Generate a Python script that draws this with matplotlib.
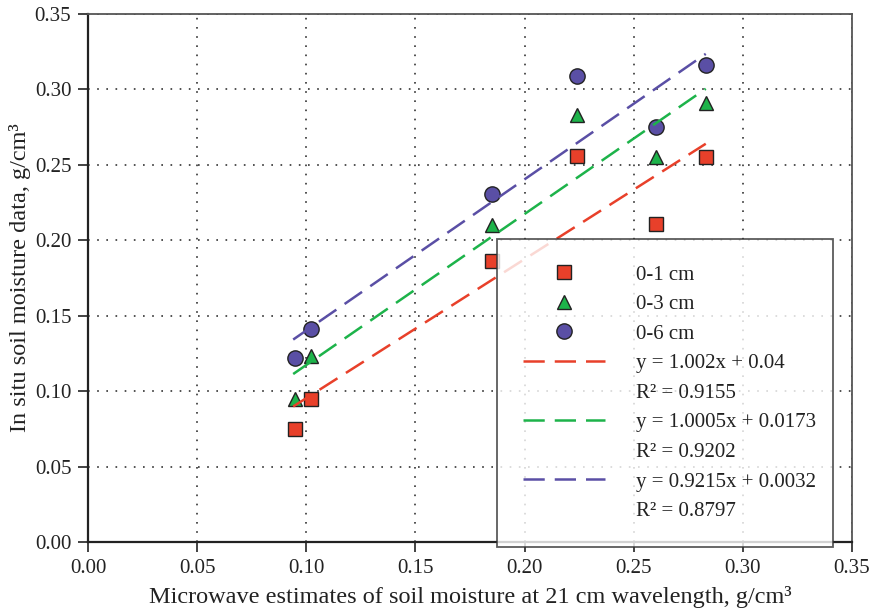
import matplotlib.pyplot as plt
from matplotlib.lines import Line2D

# microwave estimates (x) and in situ soil moisture (y) for three depths
x_est = [0.095, 0.102, 0.185, 0.224, 0.260, 0.283]
y_01cm = [0.075, 0.095, 0.186, 0.256, 0.211, 0.255]
y_03cm = [0.095, 0.123, 0.210, 0.283, 0.255, 0.291]
y_06cm = [0.122, 0.141, 0.231, 0.309, 0.275, 0.316]

# linear fits (slope, intercept) drawn for each depth
fit_01cm = (0.9215, 0.0032)
fit_03cm = (1.0005, 0.0173)
fit_06cm = (1.002, 0.04)
fit_x = [0.094, 0.283]

legend_labels = [
    "0-1 cm", "0-3 cm", "0-6 cm",
    "y = 1.002x + 0.04", "R² = 0.9155",
    "y = 1.0005x + 0.0173", "R² = 0.9202",
    "y = 0.9215x + 0.0032", "R² = 0.8797",
]

xticks = [0.0, 0.05, 0.10, 0.15, 0.20, 0.25, 0.30, 0.35]
yticks = [0.0, 0.05, 0.10, 0.15, 0.20, 0.25, 0.30, 0.35]

red = "#E8402A"
green = "#1DB34A"
blue = "#5A4FA5"

plt.rcParams["font.family"] = ["Liberation Serif", "DejaVu Serif"]

fig = plt.figure(figsize=(8.73, 6.14), dpi=100)
ax = fig.add_axes([88 / 873, 72 / 614, 764 / 873, 528 / 614])

ax.plot(x_est, y_01cm, "s", ms=9.5, mfc=red, mec="#222222", mew=1.0, ls="none", zorder=3)
ax.plot(x_est, y_03cm, "^", ms=10.5, mfc=green, mec="#222222", mew=1.0, ls="none", zorder=3)
ax.plot(x_est, y_06cm, "o", ms=11, mfc=blue, mec="#222222", mew=1.0, ls="none", zorder=3)

for (a, b), c in [(fit_01cm, red), (fit_03cm, green), (fit_06cm, blue)]:
    ax.plot(fit_x, [a * v + b for v in fit_x], color=c, lw=1.8,
            dashes=(8.5, 4), solid_capstyle="butt", zorder=4)

ax.set_xlim(0, 0.35)
ax.set_ylim(0, 0.35)
ax.set_xticks(xticks)
ax.set_yticks(yticks)
ax.set_xticklabels([f"{t:.2f}" for t in xticks])
ax.set_yticklabels([f"{t:.2f}" for t in yticks])
ax.tick_params(direction="out", length=7, width=1.2, labelsize=15, colors="#222222", pad=5)
ax.grid(True, color="#333333", linestyle=(0, (1, 4.5)), linewidth=1.2)
ax.set_axisbelow(True)
for side in ["left", "bottom"]:
    ax.spines[side].set_linewidth(1.6)
    ax.spines[side].set_color("#222222")
for side in ["top", "right"]:
    ax.spines[side].set_linewidth(1.3)
    ax.spines[side].set_color("#555555")

ax.set_xlabel("Microwave estimates of soil moisture at 21 cm wavelength, g/cm³",
              fontsize=17.5, color="#222222", labelpad=6)
ax.set_ylabel("In situ soil moisture data, g/cm³", fontsize=17.5, color="#222222", labelpad=3)

mk = dict(ls="none", mec="#222222", mew=1.0)
dash = dict(lw=1.8, dashes=(8.5, 4))
blank = Line2D([], [], ls="none")
handles = [
    Line2D([], [], marker="s", ms=9.5, mfc=red, **mk),
    Line2D([], [], marker="^", ms=10.5, mfc=green, **mk),
    Line2D([], [], marker="o", ms=11, mfc=blue, **mk),
    Line2D([], [], color=red, **dash), blank,
    Line2D([], [], color=green, **dash), blank,
    Line2D([], [], color=blue, **dash), blank,
]
leg = ax.legend(
    handles, legend_labels,
    loc="upper left", bbox_to_anchor=(0.535, 0.574, 0.44, 0.0), mode="expand",
    borderaxespad=0, fontsize=15, frameon=True, fancybox=False,
    handlelength=3.95, handletextpad=1.5, borderpad=1.25, labelspacing=0.48,
)
leg.get_frame().set_edgecolor("#333333")
leg.get_frame().set_linewidth(1.3)
leg.set_zorder(5)
for t in leg.get_texts():
    t.set_color("#222222")

fig.savefig("out.png", dpi=100)
